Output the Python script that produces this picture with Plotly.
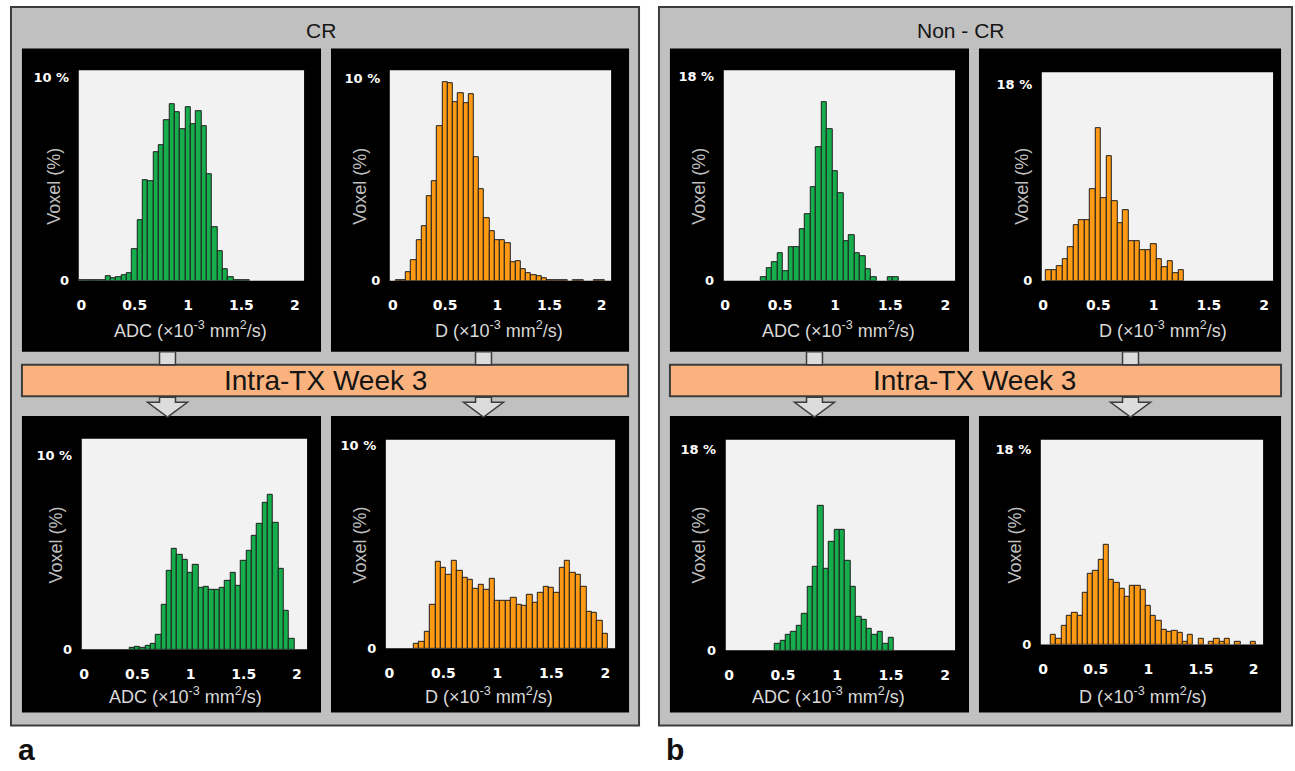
import plotly.graph_objects as go

W, H = 1295, 771

# ---------------- data (voxel %, bins of 0.05 x10^-3 mm^2/s) ----------------
BIN_CENTERS = [0.00, 0.05, 0.10, 0.15, 0.20, 0.25, 0.30, 0.35, 0.40, 0.45,
               0.50, 0.55, 0.60, 0.65, 0.70, 0.75, 0.80, 0.85, 0.90, 0.95,
               1.00, 1.05, 1.10, 1.15, 1.20, 1.25, 1.30, 1.35, 1.40, 1.45,
               1.50, 1.55, 1.60, 1.65, 1.70, 1.75, 1.80, 1.85, 1.90, 1.95, 2.00]
X_TICKS = [0, 0.5, 1, 1.5, 2]
X_TICK_TEXT = ["0", "0.5", "1", "1.5", "2"]

cr_adc_pre = [0.03, 0.03, 0.03, 0.02, 0.03, 0.23, 0.10, 0.16, 0.29, 0.35,
              1.53, 2.98, 4.92, 4.89, 6.29, 6.65, 7.90, 8.66, 8.27, 7.42,
              8.50, 7.71, 8.31, 7.61, 5.24, 2.61, 1.45, 0.56, 0.16, 0.05,
              0.03, 0.03, 0, 0, 0, 0, 0, 0, 0, 0, 0]
cr_d_pre = [0, 0.03, 0.03, 0.41, 1.00, 2.00, 2.70, 4.15, 4.93, 7.64,
            9.79, 9.76, 8.83, 9.27, 8.78, 9.22, 6.10, 4.50, 3.09, 2.44,
            2.00, 2.00, 1.87, 0.89, 0.94, 0.57, 0.36, 0.29, 0.20, 0.10,
            0.03, 0.03, 0.03, 0.03, 0, 0.03, 0.03, 0, 0, 0.03, 0.03]
noncr_adc_pre = [0, 0, 0, 0, 0, 0, 0, 0.29, 1.10, 1.66,
                 2.41, 0.81, 2.97, 2.97, 4.56, 5.90, 8.28, 11.77, 15.78, 13.37,
                 9.65, 7.76, 3.49, 4.04, 2.44, 2.18, 1.02, 0.29, 0, 0,
                 0.29, 0.29, 0, 0, 0, 0, 0, 0, 0, 0, 0]
noncr_d_pre = [0, 1.00, 1.00, 1.30, 2.00, 3.12, 5.08, 5.60, 5.60, 8.41,
               13.98, 7.56, 11.44, 7.26, 5.29, 6.44, 3.63, 3.63, 2.81, 2.81,
               3.33, 1.97, 1.21, 1.79, 0.70, 0.97, 0, 0, 0, 0,
               0, 0, 0, 0, 0, 0, 0, 0, 0, 0, 0]
cr_adc_wk3 = [0, 0, 0, 0, 0, 0, 0, 0, 0, 0.09,
              0.12, 0.09, 0.20, 0.31, 0.73, 2.30, 4.05, 5.20, 4.86, 4.64,
              3.93, 4.35, 3.16, 3.23, 3.06, 3.06, 3.16, 3.54, 3.96, 3.28,
              4.59, 5.10, 5.88, 6.46, 7.59, 7.96, 6.55, 4.17, 2.00, 0.56, 0]
cr_d_wk3 = [0, 0, 0, 0, 0, 0.20, 0.33, 0.81, 2.15, 4.28,
            3.98, 3.63, 4.34, 3.82, 3.46, 3.38, 2.93, 3.14, 2.88, 3.43,
            2.33, 2.33, 2.33, 2.49, 2.15, 2.08, 2.63, 2.23, 2.76, 3.04,
            2.98, 2.73, 3.95, 4.34, 3.74, 3.63, 3.06, 1.79, 1.74, 1.35, 0.73]
noncr_adc_wk3 = [0, 0, 0, 0, 0, 0, 0, 0, 0, 0.59,
                 0.88, 1.42, 1.68, 2.21, 3.30, 5.69, 7.52, 12.98, 7.29, 9.68,
                 10.77, 10.77, 8.05, 5.69, 3.04, 2.74, 1.92, 1.42, 1.62, 0.59,
                 1.12, 0, 0, 0, 0, 0, 0, 0, 0, 0, 0]
noncr_d_wk3 = [0, 0, 0.85, 0.52, 1.67, 2.67, 2.95, 2.67, 4.80, 6.47,
               6.78, 7.84, 9.21, 5.96, 5.71, 5.11, 4.35, 5.41, 5.41, 5.05,
               3.53, 2.67, 2.13, 1.37, 1.16, 1.22, 1.09, 0.24, 0.85, 0,
               0.52, 0, 0.21, 0.52, 0.21, 0.52, 0, 0.24, 0, 0, 0.24]

GREEN = "#16AE4C"
ORANGE = "#FF9A14"


def px(x):
    return x / W


def py(y):
    return 1 - y / H


# panel specs: data, colour, y-top label, y-top value, plot box (px), x range, y max, x title, title pos, voxel pos
panels = [
    (cr_adc_pre, GREEN, "10 %", 10, (75, 70, 301, 283), (-0.025, 2.087), 10.34, "ADC", (187, 332), (50, 187)),
    (cr_d_pre, ORANGE, "10 %", 10, (387, 70, 609, 283), (-0.029, 2.09), 10.39, "D", (497, 332), (357, 187)),
    (noncr_adc_pre, GREEN, "18 %", 18, (722, 70, 954, 283), (-0.012, 2.088), 18.57, "ADC", (837, 332), (697, 187)),
    (noncr_d_pre, ORANGE, "18 %", 18, (1041, 72, 1273, 283), (-0.012, 2.08), 19.15, "D", (1163, 332), (1021, 187)),
    (cr_adc_wk3, GREEN, "10 %", 10, (78, 443, 304, 656), (-0.022, 2.095), 10.87, "ADC", (182, 703), (52, 550)),
    (cr_d_wk3, ORANGE, "10 %", 10, (383, 444, 613, 655), (-0.034, 2.09), 10.29, "D", (487, 703), (357, 550)),
    (noncr_adc_wk3, GREEN, "18 %", 18, (724, 444, 954, 657), (-0.03, 2.093), 18.85, "ADC", (827, 703), (697, 550)),
    (noncr_d_wk3, ORANGE, "18 %", 18, (1040, 444, 1263, 651), (-0.022, 2.09), 18.87, "D", (1143, 703), (1014, 550)),
]

fig = go.Figure()
annotations = []
layout_axes = {}
shapes = []


def rect(x0, y0, x1, y1, fill, line="#3c3c3c", lw=2):
    shapes.append(dict(type="rect", xref="paper", yref="paper",
                       x0=px(x0), x1=px(x1), y0=py(y1), y1=py(y0),
                       fillcolor=fill, line=dict(color=line, width=lw), layer="below"))


# outer grey frames
rect(7, 6, 637, 733, "#c0c0c0")
rect(657, 6, 1292, 733, "#c0c0c0")
# black panels
for (bx0, bx1) in [(18, 318), (328, 627), (668, 968), (978, 1281)]:
    rect(bx0, 48, bx1, 355, "black", line="black", lw=0)
    rect(bx0, 420, bx1, 720, "black", line="black", lw=0)
# orange bands
rect(18, 368, 626, 400, "#FAB37E")
rect(668, 368, 1281, 400, "#FAB37E")
# connectors + hollow arrows
for cx in [164, 481, 813, 1130]:
    rect(cx - 8, 355, cx + 8, 368, "#dcdcdc", lw=1.5)
    pts = [(cx - 8, 401), (cx - 8, 406), (cx - 20, 406), (cx, 421),
           (cx + 20, 406), (cx + 8, 406), (cx + 8, 401)]
    path = "M " + " L ".join(f"{px(a):.5f},{py(b):.5f}" for a, b in pts) + " Z"
    shapes.append(dict(type="path", xref="paper", yref="paper", path=path,
                       fillcolor="#dcdcdc", line=dict(color="#3c3c3c", width=1.5),
                       layer="below"))

for i, spec in enumerate(panels):
    vals, col, ylab, ymaxval, box, xr, yr, xt, tpos, vpos = spec
    n = "" if i == 0 else str(i + 1)
    yvals = [v if v > 0 else None for v in vals]
    fig.add_trace(go.Bar(
        x=BIN_CENTERS, y=yvals, width=0.05,
        marker=dict(color=col, line=dict(color="#1e1e1e", width=1)),
        xaxis="x" + n, yaxis="y" + n, showlegend=False, hoverinfo="x+y"))
    x0, y0, x1, y1 = box
    rect(x0, y0, x1, y1, "#f2f2f2", line="#f2f2f2", lw=0)
    layout_axes["xaxis" + n] = dict(
        domain=[px(x0), px(x1)], anchor="y" + n, range=list(xr),
        tickvals=X_TICKS, ticktext=X_TICK_TEXT, ticks="outside", ticklen=12,
        tickcolor="black", showgrid=False, zeroline=False, showline=False,
        tickfont=dict(family="DejaVu Sans", size=14, color="white", weight="bold"),
        fixedrange=True)
    layout_axes["yaxis" + n] = dict(
        domain=[py(y1), py(y0)], anchor="x" + n, range=[0, yr],
        tickvals=[0, ymaxval], ticktext=["0", ylab], ticks="outside", ticklen=6,
        tickcolor="black", showgrid=False, zeroline=False, showline=False,
        tickfont=dict(family="DejaVu Sans", size=13, color="white", weight="bold"),
        fixedrange=True)
    annotations.append(dict(
        x=px(tpos[0]), y=py(tpos[1]), xref="paper", yref="paper",
        text=xt + " (×10<sup>-3</sup> mm<sup>2</sup>/s)", showarrow=False,
        font=dict(family="Liberation Sans", size=18, color="#d9d9d9"),
        xanchor="center", yanchor="middle"))
    annotations.append(dict(
        x=px(vpos[0]), y=py(vpos[1]), xref="paper", yref="paper",
        text="Voxel (%)", showarrow=False, textangle=-90,
        font=dict(family="Liberation Sans", size=18, color="#bfbfbf"),
        xanchor="center", yanchor="middle"))

# header / band / panel letters
for txt, x, y, size in [("CR", 318, 30, 21), ("Non - CR", 960, 30, 21),
                        ("Intra-TX Week 3", 322, 384, 28),
                        ("Intra-TX Week 3", 974, 384, 28)]:
    annotations.append(dict(x=px(x), y=py(y), xref="paper", yref="paper", text=txt,
                            showarrow=False, xanchor="center", yanchor="middle",
                            font=dict(family="Liberation Sans", size=size, color="#151515")))
for txt, x in [("a", 12), ("b", 662)]:
    annotations.append(dict(x=px(x), y=py(757), xref="paper", yref="paper",
                            text="<b>" + txt + "</b>", showarrow=False,
                            xanchor="left", yanchor="middle",
                            font=dict(family="Liberation Sans", size=30, color="#111")))

fig.update_layout(
    width=W, height=H, margin=dict(l=0, r=0, t=0, b=0),
    paper_bgcolor="white", plot_bgcolor="#f2f2f2",
    bargap=0, showlegend=False, shapes=shapes, annotations=annotations,
    **layout_axes)

fig.write_html("out.html")
